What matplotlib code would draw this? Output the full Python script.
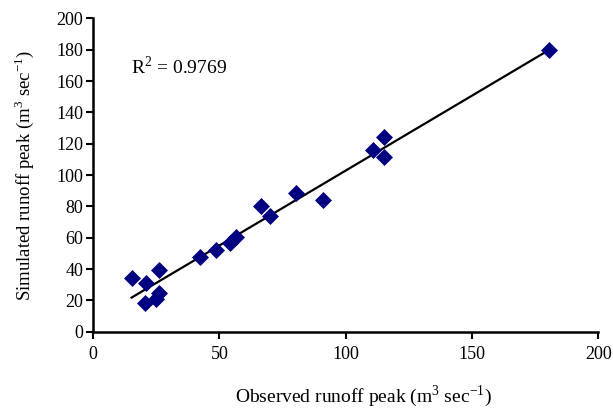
import numpy as np
import matplotlib.pyplot as plt

plt.rcParams['font.family'] = ['Liberation Serif', 'DejaVu Serif']
plt.rcParams['mathtext.fontset'] = 'custom'
plt.rcParams['mathtext.rm'] = 'Liberation Serif'

# observed vs simulated runoff peaks (m3/sec)
observed = [15.2, 21.1, 26.0, 20.5, 24.7, 26.0, 42.3, 48.5, 54.1, 56.4,
            66.4, 70.0, 80.5, 91.1, 110.6, 115.3, 115.3, 180.6]
simulated = [34.1, 31.3, 39.4, 18.5, 20.7, 24.9, 47.9, 52.1, 56.4, 60.6,
             80.2, 73.8, 88.7, 84.0, 116.0, 124.5, 111.3, 179.8]
r2_text = "R$^2$ = 0.9769"

obs = np.array(observed)
sim = np.array(simulated)
theta = np.polyfit(obs, sim, 1)
xfit = np.array([obs.min(), obs.max()])
yfit = theta[0] * xfit + theta[1]

fig = plt.figure(figsize=(6.13, 4.11), dpi=100)
ax = fig.add_axes([0.152, 0.193, 0.824, 0.762])

ax.plot(xfit, yfit, color="black", lw=1.6, zorder=2)
ax.scatter(obs, sim, marker="D", s=75, color="#000080", zorder=3, linewidths=0)

ax.set_xlim(0, 200)
ax.set_ylim(0, 200)
ax.set_xticks(range(0, 201, 50))
ax.set_yticks(range(0, 201, 20))

for s in ["top", "right"]:
    ax.spines[s].set_visible(False)
for s in ["left", "bottom"]:
    ax.spines[s].set_linewidth(1.8)
ax.tick_params(direction="out", length=5, width=1.5, labelsize=13)
ax.tick_params(axis="x", pad=5)
ax.tick_params(axis="y", pad=2)

ax.text(15, 169, r2_text, fontsize=14, va="center", ha="left")

ax.set_xlabel("Observed runoff peak (m$^3$ sec$^{-1}$)", fontsize=14)
ax.xaxis.set_label_coords(0.535, -0.165)
ax.set_ylabel("Simulated runoff peak (m$^3$ sec$^{-1}$)", fontsize=13.5, labelpad=15)

fig.savefig("out.png", dpi=100)
